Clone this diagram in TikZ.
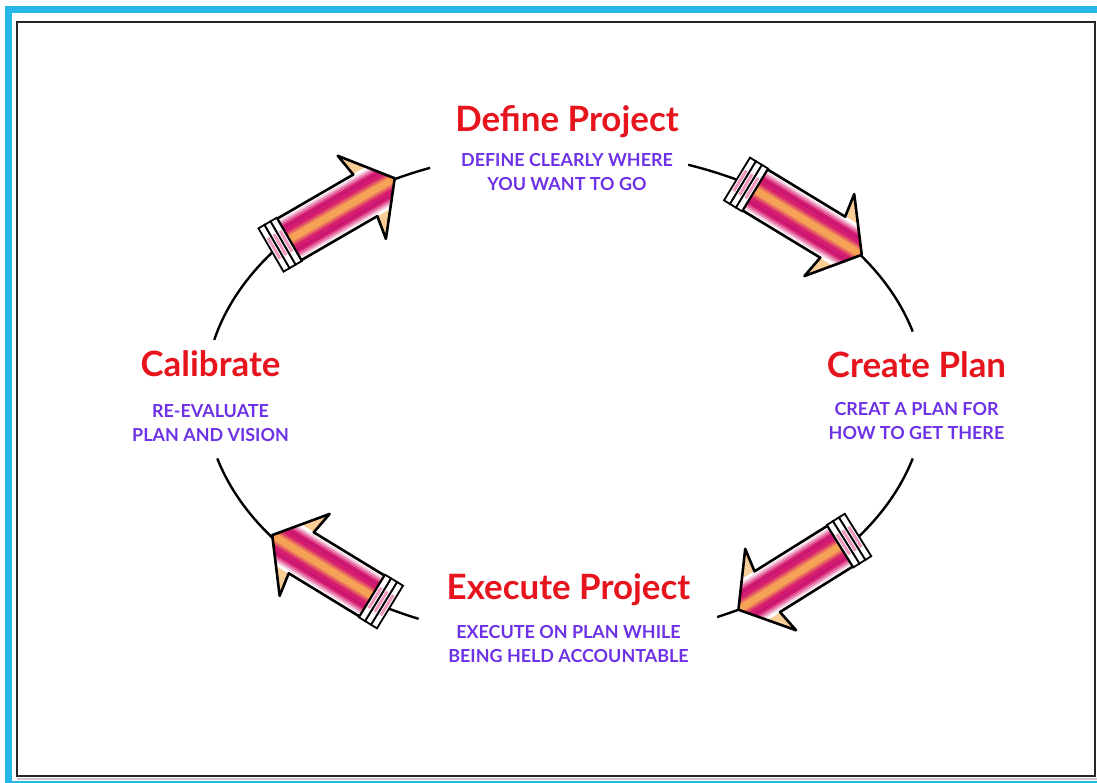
\documentclass[tikz,border=0pt]{standalone}
\usepackage{fontspec}
\setmainfont{Lato}
\usetikzlibrary{positioning}

\definecolor{framecyan}{RGB}{40,182,232}
\definecolor{titlered}{RGB}{230,20,28}
\definecolor{subpurple}{RGB}{110,50,230}
\definecolor{stripmag}{RGB}{214,28,112}
\definecolor{striporange}{RGB}{245,162,86}
\definecolor{headpeach}{RGB}{250,204,150}

\tikzset{
 title/.style={text=titlered, font=\bfseries\fontsize{35}{37}\selectfont, inner sep=0pt, anchor=base},
 subtitle/.style={text=subpurple, font=\bfseries\fontsize{18}{24}\selectfont, align=center, inner sep=0pt},
 cycle line/.style={line width=2.4pt},
}

% outline of one arrow: shaft from x=21, tip at x=#1
\newcommand{\arrowoutline}[1]{(21,-24) -- ({#1-34},-24) -- ({#1-38},-48) -- (#1,0) -- ({#1-38},48) -- ({#1-34},24) -- (21,24) -- cycle}

% one arrow of the cycle: #1 tail, #2 angle, #3 length
\newcommand{\cyclearrow}[3]{%
 \begin{scope}[shift={#1}, rotate=#2]
  % peach body and head
  \fill[headpeach] \arrowoutline{#3};
  % stripes along the shaft
  \begin{scope}
   \clip \arrowoutline{#3};
   \foreach \c [count=\i] in {striporange, striporange, striporange!65!stripmag, striporange!30!stripmag,
     stripmag, stripmag, stripmag!80!violet, stripmag, stripmag!75!white, stripmag!50!white, stripmag!20!white, white}
   {
    \fill[\c] (20,{2*\i-2.3}) rectangle (#3,{2*\i+0.3});
    \fill[\c] (20,{-2*\i+2.3}) rectangle (#3,{-2*\i-0.3});
   }
  \end{scope}
  \draw[line width=2.6pt, line join=round] \arrowoutline{#3};
  % end caps at the tail
  \foreach \u in {0,7,14}
  {
   \draw[line width=1.8pt, fill=white] (\u,-25) rectangle ({\u+7},25);
   \fill[stripmag!45!white] ({\u+2},-12) rectangle ({\u+5},12);
  }
 \end{scope}}

\begin{document}
\begin{tikzpicture}[x=1bp, y=1bp]

 \useasboundingbox (0,0) rectangle (1097,783);

 % Frame
 \draw[framecyan, line width=7bp] (8.5,-2) rectangle (1110,773.5);
 \draw[gray!45, line width=2bp] (17,4) -- (1097,4);
 \draw[black!85, line width=2.5bp] (17,7) rectangle (1095,761);

 % Texts of the four steps
 \node[title] (define) at (567,651) {Define Project};
 \node[subtitle, below=21bp of define.base] (definesub) {DEFINE CLEARLY WHERE\\YOU WANT TO GO};

 \node[title] (plan) at (916.5,405) {Create Plan};
 \node[subtitle, below=24bp of plan.base] (plansub) {CREAT A PLAN FOR\\HOW TO GET THERE};

 \node[title] (execute) at (568.5,183) {Execute Project};
 \node[subtitle, below=25bp of execute.base] (executesub) {EXECUTE ON PLAN WHILE\\BEING HELD ACCOUNTABLE};

 \node[title] (calibrate) at (210.5,406) {Calibrate};
 \node[subtitle, below=27bp of calibrate.base] (calibratesub) {RE-EVALUATE\\PLAN AND VISION};

 % Cycle, broken where the texts stand
 \coordinate (hub) at (565,388);
 \foreach \s/\e in {15/70,112/167,195/246,295/345}
  \draw[cycle line] ([shift={(\s:360 and 245)}]hub) arc[start angle=\s, end angle=\e, x radius=360, y radius=245];

 % Arrows on the cycle
 \cyclearrow{(737,604)}{-31.3}{146}
 \cyclearrow{(858,248)}{-148}{141}
 \cyclearrow{(390,176)}{148.6}{138}
 \cyclearrow{(271,533)}{30.1}{143}

\end{tikzpicture}
\end{document}
